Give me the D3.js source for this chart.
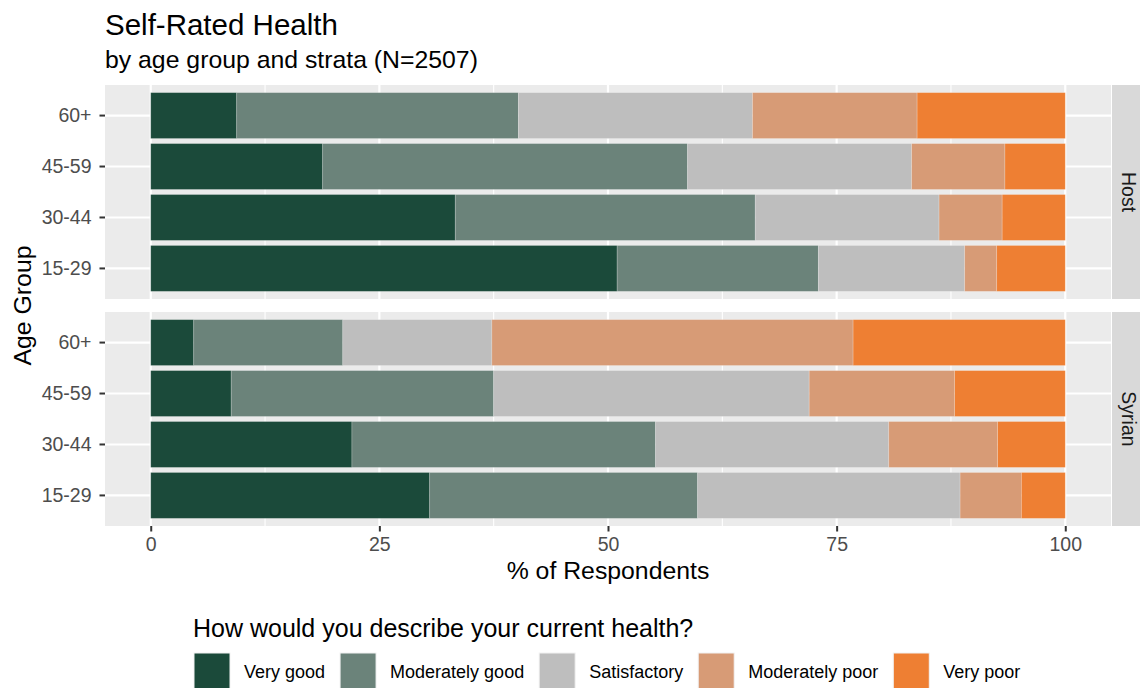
<!DOCTYPE html>
<html>
<head>
<meta charset="utf-8">
<script src="https://cdn.jsdelivr.net/npm/d3@7"></script>
<style>
  body { margin: 0; background: #fff; }
  text { font-family: "Liberation Sans", Arial, sans-serif; }
</style>
</head>
<body>
<script>
const WIDTH  = 1140;
const HEIGHT = 688;

// Categories, top to bottom order is reversed on the axis
const ageGroups = ["15-29", "30-44", "45-59", "60+"];
const strata    = ["Host", "Syrian"];
const responses = ["Very good", "Moderately good", "Satisfactory", "Moderately poor", "Very poor"];
const fills     = ["#1b4a3a", "#6b837a", "#bebebe", "#d79b76", "#ee7f33"];

// % of respondents per age group (rows follow ageGroups, columns follow responses)
const hostValues = [
  [51.0, 22.0, 16.0,  3.5,  7.5],
  [33.3, 32.8, 20.1,  6.9,  6.9],
  [18.8, 39.9, 24.5, 10.2,  6.6],
  [ 9.4, 30.8, 25.6, 18.0, 16.2]
];
const syrianValues = [
  [30.5, 29.3, 28.7,  6.7,  4.8],
  [22.0, 33.2, 25.5, 11.9,  7.4],
  [ 8.8, 28.7, 34.5, 15.9, 12.1],
  [ 4.7, 16.3, 16.3, 39.5, 23.2]
];
const xTicks = [0, 25, 50, 75, 100];
const xMinor = [12.5, 37.5, 62.5, 87.5];

// panel geometry
const PANEL_L = 105, PANEL_R = 1111;
const panels  = [[85, 299], [312, 526]];
const STRIP_W = 29;

const svg = d3.select("body").append("svg")
  .attr("width", WIDTH).attr("height", HEIGHT);

const x = d3.scaleLinear().domain([-5, 105]).range([PANEL_L, PANEL_R]);

// Titles
svg.append("text").attr("x", 105).attr("y", 35)
  .style("font-size", "29.5px").style("fill", "#000").text("Self-Rated Health");
svg.append("text").attr("x", 105).attr("y", 68)
  .style("font-size", "24.8px").style("fill", "#000").text("by age group and strata (N=2507)");

const stack = d3.stack().keys(d3.range(responses.length));

function drawPanel(values, label, top, bottom, showX) {
  const y = d3.scaleBand()
    .domain(ageGroups.slice().reverse())
    .range([top, bottom])
    .paddingInner(0.1).paddingOuter(0.15);

  const g = svg.append("g");
  g.append("rect")
    .attr("x", PANEL_L).attr("y", top)
    .attr("width", PANEL_R - PANEL_L).attr("height", bottom - top)
    .style("fill", "#ebebeb");

  // grid lines
  g.selectAll(".minor").data(xMinor).enter().append("line")
    .attr("x1", d => x(d)).attr("x2", d => x(d))
    .attr("y1", top).attr("y2", bottom)
    .style("stroke", "#fff").style("stroke-width", 1.1);
  g.selectAll(".major").data(xTicks).enter().append("line")
    .attr("x1", d => x(d)).attr("x2", d => x(d))
    .attr("y1", top).attr("y2", bottom)
    .style("stroke", "#fff").style("stroke-width", 2.2);
  g.selectAll(".ygrid").data(ageGroups).enter().append("line")
    .attr("x1", PANEL_L).attr("x2", PANEL_R)
    .attr("y1", d => y(d) + y.bandwidth() / 2).attr("y2", d => y(d) + y.bandwidth() / 2)
    .style("stroke", "#fff").style("stroke-width", 2.2);

  // stacked bars
  const rows = values.map((v, i) => Object.assign({ age: ageGroups[i] }, v));
  const series = stack(rows);
  series.forEach((s, k) => {
    g.selectAll(".bar" + k).data(s).enter().append("rect")
      .attr("x", d => x(d[0]))
      .attr("width", d => x(d[1]) - x(d[0]))
      .attr("y", d => y(d.data.age))
      .attr("height", y.bandwidth())
      .style("fill", fills[k])
      .style("stroke", "#ffffff").style("stroke-opacity", 0.25).style("stroke-width", 0.8);
  });

  // y axis
  const yAxis = g.append("g")
    .attr("transform", "translate(" + PANEL_L + ",0)")
    .call(d3.axisLeft(y).tickSize(5.5).tickPadding(8));
  yAxis.select(".domain").remove();
  yAxis.selectAll(".tick line").style("stroke", "#333").style("stroke-width", 2);
  yAxis.selectAll(".tick text")
    .style("font-size", "19.5px").style("fill", "#4d4d4d")
    .style("font-family", "'Liberation Sans', Arial, sans-serif");

  // strip on the right
  g.append("rect")
    .attr("x", PANEL_R + 1).attr("y", top)
    .attr("width", STRIP_W).attr("height", bottom - top)
    .style("fill", "#d9d9d9");
  g.append("text")
    .attr("transform", "translate(" + (PANEL_R + 11) + "," + ((top + bottom) / 2) + ") rotate(90)")
    .style("text-anchor", "middle")
    .style("font-size", "19.5px").style("fill", "#1a1a1a")
    .text(label);

  if (showX) {
    const xAxis = g.append("g")
      .attr("transform", "translate(0," + bottom + ")")
      .call(d3.axisBottom(x).tickValues(xTicks).tickSize(5.5).tickPadding(6));
    xAxis.select(".domain").remove();
    xAxis.selectAll(".tick line").style("stroke", "#333").style("stroke-width", 2);
    xAxis.selectAll(".tick text")
      .style("font-size", "19.5px").style("fill", "#4d4d4d")
      .style("font-family", "'Liberation Sans', Arial, sans-serif");
  }
}

drawPanel(hostValues,   strata[0], panels[0][0], panels[0][1], false);
drawPanel(syrianValues, strata[1], panels[1][0], panels[1][1], true);

// Axis titles
svg.append("text")
  .attr("x", (PANEL_L + PANEL_R) / 2).attr("y", 579)
  .style("text-anchor", "middle").style("font-size", "24.8px")
  .text("% of Respondents");
svg.append("text")
  .attr("transform", "translate(31," + ((panels[0][0] + panels[1][1]) / 2) + ") rotate(-90)")
  .style("text-anchor", "middle").style("font-size", "24.8px")
  .text("Age Group");

// Legend
const legend = svg.append("g");
legend.append("text").attr("x", 193).attr("y", 637)
  .style("font-size", "25px").text("How would you describe your current health?");

let keyX = 194;
responses.forEach((r, i) => {
  legend.append("rect")
    .attr("x", keyX).attr("y", 653)
    .attr("width", 36).attr("height", 36)
    .style("fill", fills[i])
    .style("stroke", "#f2f2f2").style("stroke-width", 1);
  const t = legend.append("text")
    .attr("x", keyX + 50).attr("y", 678)
    .style("font-size", "18px").style("fill", "#000")
    .text(r);
  keyX = keyX + 50 + t.node().getComputedTextLength() + 15;
});
</script>
</body>
</html>
